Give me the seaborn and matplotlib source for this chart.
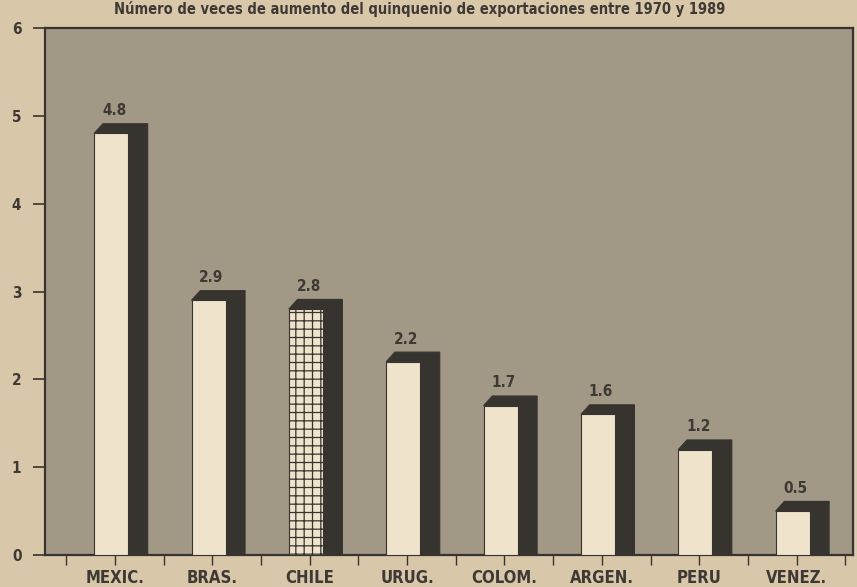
import matplotlib
matplotlib.use("Agg")
import matplotlib.pyplot as plt
import matplotlib.patches as patches
import seaborn as sns
import numpy as np

# Daten
paises = ["MEXIC.", "BRAS.", "CHILE", "URUG.", "COLOM.", "ARGEN.", "PERU", "VENEZ."]
valores = [4.8, 2.9, 2.8, 2.2, 1.7, 1.6, 1.2, 0.5]
etiquetas = ["4.8", "2.9", "2.8", "2.2", "1.7", "1.6", "1.2", "0.5"]
titulo = "Número de veces de aumento del quinquenio de exportaciones entre 1970 y 1989"

# Farben
papel = "#d9c7a9"
fondo = "#a19886"
crema = "#efe4cb"
oscuro = "#37332f"
texto = "#3e3934"

sns.set_style("white")
plt.rcParams["font.family"] = ["DejaVu Sans"]
plt.rcParams["font.stretch"] = "condensed"
plt.rcParams["hatch.color"] = oscuro
plt.rcParams["hatch.linewidth"] = 0.9

fig = plt.figure(figsize=(8.57, 5.87), dpi=100, facecolor=papel)
ax = fig.add_axes([45 / 857, 1 - 555 / 587, 808 / 857, (555 - 28) / 587])
ax.set_facecolor(fondo)

sns.barplot(x=paises, y=valores, width=0.35, color=crema, edgecolor=oscuro,
            linewidth=0.8, saturation=1, ax=ax, zorder=3)

# Schatten / 3D-Effekt aus den Balken der Bibliothek ableiten
dx, dx1, dy = 0.20, 0.09, 0.11
for i, bar in enumerate(ax.patches):
    x0 = bar.get_x()
    x1 = x0 + bar.get_width()
    h = bar.get_height()
    sombra = patches.Polygon([(x0, h), (x0 + dx1, h + dy), (x1 + dx, h + dy),
                              (x1 + dx, 0), (x1, 0), (x1, h)],
                             closed=True, facecolor=oscuro, edgecolor=oscuro,
                             linewidth=0.8, zorder=2)
    ax.add_patch(sombra)
    if paises[i] == "CHILE":
        bar.set_hatch("++")
    ax.annotate(etiquetas[i], (x0 + bar.get_width() / 2 + 0.03, h + dy),
                xytext=(0, 4), textcoords="offset points", ha="center", va="bottom",
                fontsize=11, fontweight="bold", color=texto, fontstretch="condensed")

ax.set_xlim(-0.68, 7.62)
ax.set_ylim(0, 6)
ax.set_yticks(range(0, 7))
ax.set_yticklabels([str(v) for v in range(0, 7)], fontsize=11, fontweight="bold", color=texto)
ax.set_xticks(np.arange(len(paises)) + 0.04)
ax.set_xticklabels(paises, fontsize=12, fontweight="bold", color=texto, fontstretch="condensed")
ax.set_xticks(np.arange(-0.46, 8, 1.0), minor=True)
ax.tick_params(axis="y", left=True, length=9, width=1.2, color=oscuro, pad=8)
ax.tick_params(axis="x", which="both", bottom=True, length=7, width=1.0, color=oscuro,
               pad=3, direction="out")
ax.set_xlabel("")
ax.set_ylabel("")
for lado in ["left", "bottom", "top", "right"]:
    ax.spines[lado].set_color(oscuro)
    ax.spines[lado].set_linewidth(1.6)

fig.text(0.49, 1 - 1 / 587, titulo, ha="center", va="top", fontsize=10.5,
         fontweight="bold", color=texto, fontstretch="condensed")

fig.savefig("out.png", dpi=100, facecolor=papel)
